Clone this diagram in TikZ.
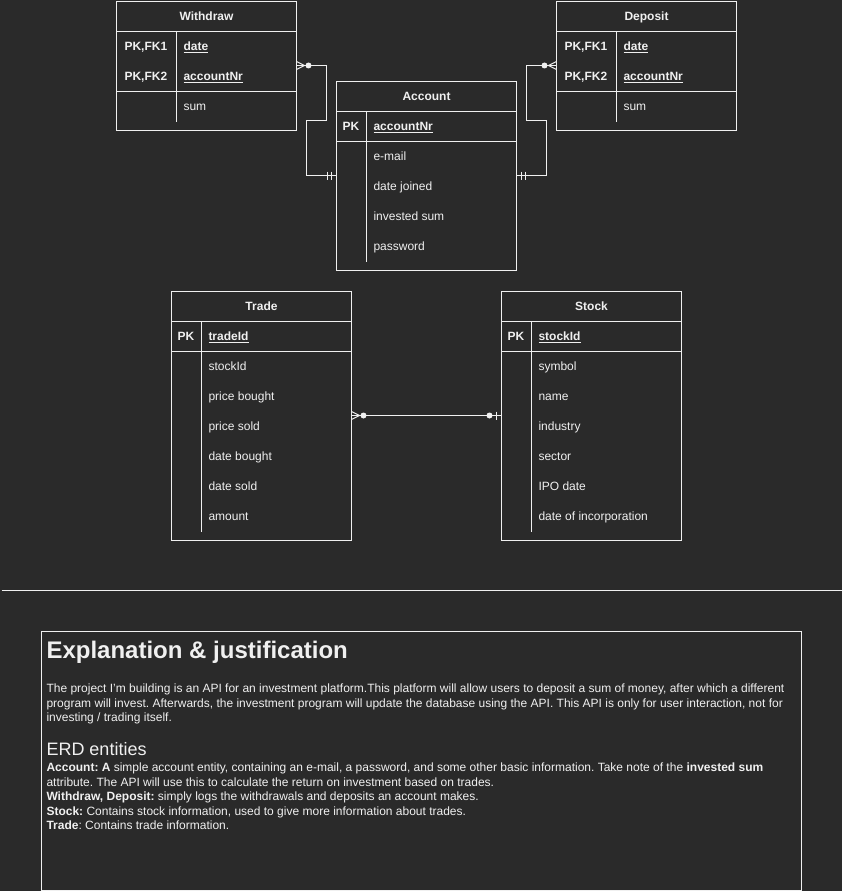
\documentclass[tikz,border=0pt]{standalone}
\usepackage{fontspec}
\setmainfont{Liberation Sans}
\definecolor{bg}{HTML}{2A2A2A}
\definecolor{fg}{HTML}{F0F0F0}
\newcommand\keyul[1]{\underline{#1}}
\frenchspacing
\tikzset{
  base/.style={inner sep=0pt, outer sep=0pt, text=fg},
  fld/.style={base, anchor=base west, font=\fontsize{12}{14.4}\selectfont},
  keyf/.style={base, anchor=base west, font=\bfseries\fontsize{12}{14.4}\selectfont},
  ttl/.style={base, anchor=base, font=\bfseries\fontsize{12}{14.4}\selectfont},
  tbl/.style={draw=fg, line width=1pt, inner sep=0pt, outer sep=0pt, anchor=north west, minimum width=180pt},
  sep/.style={draw=fg, line width=1pt},
  conn/.style={draw=fg, line width=1pt},
  dot/.style={fill=fg},
  h1/.style={base, anchor=base west, font=\bfseries\fontsize{24}{28}\selectfont},
  h2/.style={base, anchor=base west, font=\fontsize{18}{21}\selectfont},
  ln/.style={base, anchor=base west, font=\fontsize{12}{14.4}\selectfont},
}
\begin{document}
\begin{tikzpicture}[x=1pt,y=-1pt]
\useasboundingbox[fill=bg] (0,0) rectangle (842,891);
\begin{scope}[shift={(0.5,0.5)}]
% ---------- Withdraw ----------
\node[tbl, minimum height=129pt] (wd) at (116,1) {};
\draw[sep] (116,31) -- (296,31) (116,91) -- (296,91) (176,31) -- (176,121);
\node[ttl] (wd-t) at (206,20.3) {Withdraw};
\node[keyf] (wd-k1) at (124,50.3) {PK,FK1};
\node[keyf] (wd-k2) at (124,80.3) {PK,FK2};
\node[keyf] (wd-f1) at (183,50.3) {\keyul{date}};
\node[keyf] (wd-f2) at (183,80.3) {\keyul{accountNr}};
\node[fld] (wd-f3) at (183,110.3) {sum};

% ---------- Deposit ----------
\node[tbl, minimum height=129pt] (dp) at (556,1) {};
\draw[sep] (556,31) -- (736,31) (556,91) -- (736,91) (616,31) -- (616,121);
\node[ttl] (dp-t) at (646,20.3) {Deposit};
\node[keyf] (dp-k1) at (564,50.3) {PK,FK1};
\node[keyf] (dp-k2) at (564,80.3) {PK,FK2};
\node[keyf] (dp-f1) at (623,50.3) {\keyul{date}};
\node[keyf] (dp-f2) at (623,80.3) {\keyul{accountNr}};
\node[fld] (dp-f3) at (623,110.3) {sum};

% ---------- Account ----------
\node[tbl, minimum height=189pt] (acc) at (336,81) {};
\draw[sep] (336,111) -- (516,111) (336,141) -- (516,141) (366,111) -- (366,261);
\node[ttl] (acc-t) at (426,100.3) {Account};
\node[keyf] (acc-k) at (342,130.3) {PK};
\node[keyf] (acc-f0) at (373,130.3) {\keyul{accountNr}};
\node[fld] (acc-f1) at (373,160.3) {e-mail};
\node[fld] (acc-f2) at (373,190.3) {date joined};
\node[fld] (acc-f3) at (373,220.3) {invested sum};
\node[fld] (acc-f4) at (373,250.3) {password};

% ---------- Trade ----------
\node[tbl, minimum height=249pt] (tr) at (171,291) {};
\draw[sep] (171,321) -- (351,321) (171,351) -- (351,351) (201,321) -- (201,531);
\node[ttl] (tr-t) at (261,310.3) {Trade};
\node[keyf] (tr-k) at (177,340.3) {PK};
\node[keyf] (tr-f0) at (208,340.3) {\keyul{tradeId}};
\node[fld] (tr-f1) at (208,370.3) {stockId};
\node[fld] (tr-f2) at (208,400.3) {price bought};
\node[fld] (tr-f3) at (208,430.3) {price sold};
\node[fld] (tr-f4) at (208,460.3) {date bought};
\node[fld] (tr-f5) at (208,490.3) {date sold};
\node[fld] (tr-f6) at (208,520.3) {amount};

% ---------- Stock ----------
\node[tbl, minimum height=249pt] (st) at (501,291) {};
\draw[sep] (501,321) -- (681,321) (501,351) -- (681,351) (531,321) -- (531,531);
\node[ttl] (st-t) at (591,310.3) {Stock};
\node[keyf] (st-k) at (507,340.3) {PK};
\node[keyf] (st-f0) at (538,340.3) {\keyul{stockId}};
\node[fld] (st-f1) at (538,370.3) {symbol};
\node[fld] (st-f2) at (538,400.3) {name};
\node[fld] (st-f3) at (538,430.3) {industry};
\node[fld] (st-f4) at (538,460.3) {sector};
\node[fld] (st-f5) at (538,490.3) {IPO date};
\node[fld] (st-f6) at (538,520.3) {date of incorporation};

% ---------- connector end points ----------
\coordinate (wdE) at (296,65);
\coordinate (accW) at (336,175);
\coordinate (dpW) at (556,65);
\coordinate (accE) at (516,175);
\coordinate (trE) at (351,415);
\coordinate (stW) at (501,415);

% Withdraw -- Account
\draw[conn] (wdE) -- ++(30,0) -- ++(0,55) -- ++(-20,0) -- ++(0,55) -- (accW);
\draw[conn] ([xshift=8pt]wdE) -- ++(-8,-4) ([xshift=8pt]wdE) -- ++(-8,4);
\fill[dot] ([xshift=12pt]wdE) circle[radius=3pt];
\draw[conn] ([xshift=-9pt]accW) ++(0,-4) -- ++(0,8);
\draw[conn] ([xshift=-5pt]accW) ++(0,-4) -- ++(0,8);

% Deposit -- Account
\draw[conn] (dpW) -- ++(-30,0) -- ++(0,55) -- ++(20,0) -- ++(0,55) -- (accE);
\draw[conn] ([xshift=-8pt]dpW) -- ++(8,-4) ([xshift=-8pt]dpW) -- ++(8,4);
\fill[dot] ([xshift=-12pt]dpW) circle[radius=3pt];
\draw[conn] ([xshift=5pt]accE) ++(0,-4) -- ++(0,8);
\draw[conn] ([xshift=9pt]accE) ++(0,-4) -- ++(0,8);

% Trade -- Stock
\draw[conn] (trE) -- (stW);
\draw[conn] ([xshift=8pt]trE) -- ++(-8,-4) ([xshift=8pt]trE) -- ++(-8,4);
\fill[dot] ([xshift=12pt]trE) circle[radius=3pt];
\fill[dot] ([xshift=-12pt]stW) circle[radius=3pt];
\draw[conn] ([xshift=-5pt]stW) ++(0,-4) -- ++(0,8);

% ---------- separator ----------
\draw[sep] (1,590) -- (841,590);

% ---------- Explanation ----------
\draw[sep] (41,631) rectangle (801,890);
\node[h1] (ex-t) at (46,658) {Explanation \& justification};
\node[ln] (ex-p1) at (46,692) {The project I'm building is an API for an investment platform.This platform will allow users to deposit a sum of money, after which a different};
\node[ln] (ex-p2) at (46,706.5) {program will invest. Afterwards, the investment program will update the database using the API. This API is only for user interaction, not for};
\node[ln] (ex-p3) at (46,721) {investing / trading itself.};
\node[h2] (ex-h) at (46,755) {ERD entities};
\node[ln] (ex-l1) at (46,771) {\textbf{Account: A} simple account entity, containing an e-mail, a password, and some other basic information. Take note of the \textbf{invested sum}};
\node[ln] (ex-l2) at (46,785.5) {attribute. The API will use this to calculate the return on investment based on trades.};
\node[ln] (ex-l3) at (46,800) {\textbf{Withdraw, Deposit:} simply logs the withdrawals and deposits an account makes.};
\node[ln] (ex-l4) at (46,814.5) {\textbf{Stock:} Contains stock information, used to give more information about trades.};
\node[ln] (ex-l5) at (46,829) {\textbf{Trade}: Contains trade information.};
\end{scope}
\end{tikzpicture}
\end{document}
